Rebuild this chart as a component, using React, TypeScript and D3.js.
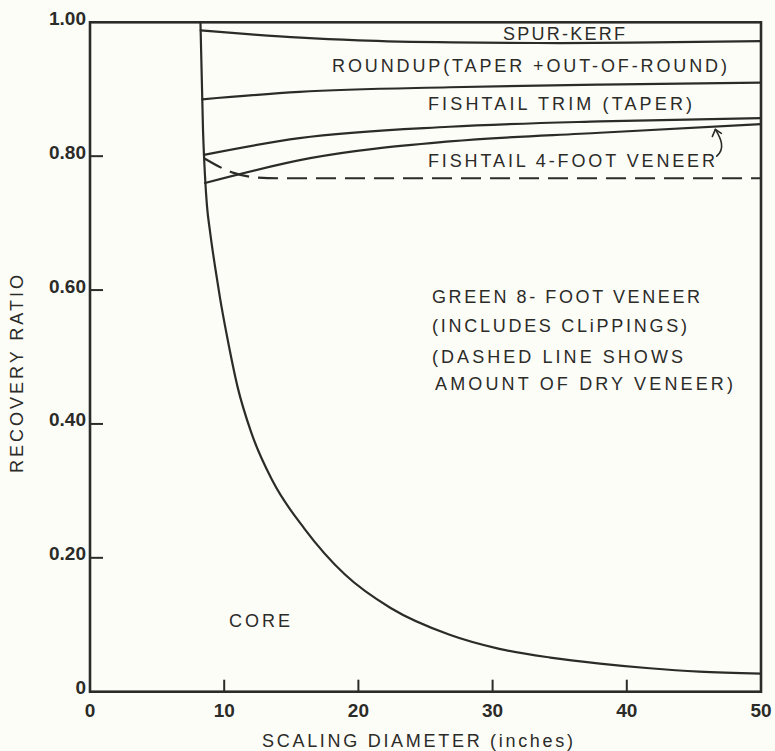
import React from "react";
import * as d3 from "d3";

// ---- data ----
const xTicks = [0, 10, 20, 30, 40, 50];
const yTicks = [0, 0.2, 0.4, 0.6, 0.8, 1.0];
const yTickLabels = ["0", "0.20", "0.40", "0.60", "0.80", "1.00"];

// core boundary (bottom of green veneer region)
const coreD = [8.23, 8.42, 8.57, 8.72, 8.94, 9.31, 9.69, 10.2, 11.0, 12.0, 13.6, 16.0, 19.0, 22.4, 26.8, 30.5, 34.3, 38.0, 41.7, 45.4, 50];
const coreR = [1.0, 0.84, 0.77, 0.725, 0.688, 0.636, 0.588, 0.532, 0.455, 0.388, 0.315, 0.243, 0.175, 0.125, 0.085, 0.064, 0.051, 0.042, 0.035, 0.03, 0.027];

// spur-kerf boundary
const spurD = [8.25, 12, 15.7, 20, 27, 35, 42, 50];
const spurR = [0.988, 0.982, 0.977, 0.973, 0.97, 0.969, 0.97, 0.972];

// roundup boundary
const roundD = [8.36, 15.6, 26.8, 38, 50];
const roundR = [0.885, 0.896, 0.903, 0.907, 0.91];

// fishtail trim boundary
const trimD = [8.49, 15.6, 26.8, 38, 50];
const trimR = [0.802, 0.827, 0.844, 0.852, 0.857];

// fishtail 4-foot veneer boundary
const fourD = [8.57, 16.4, 26.8, 38, 50];
const fourR = [0.76, 0.797, 0.822, 0.835, 0.848];

// dry veneer (dashed)
const dryD = [8.5, 10.7, 12.0, 14.0, 20, 30, 40, 50];
const dryR = [0.797, 0.775, 0.769, 0.767, 0.767, 0.767, 0.767, 0.767];

const W = 775;
const H = 751;
const INK = "#2b2b28";
const FONT = "'Liberation Sans', Arial, Helvetica, sans-serif";

export default function App() {
  const x = d3.scaleLinear().domain([0, 50]).range([90, 761]);
  const y = d3.scaleLinear().domain([0, 1]).range([691.7, 22.3]);

  const mk = (ds: number[], rs: number[], curve: d3.CurveFactory) =>
    d3
      .line<number>()
      .x((_, i) => x(ds[i]))
      .y((_, i) => y(rs[i]))
      .curve(curve)(ds) as string;

  const corePath = mk(coreD, coreR, d3.curveMonotoneX);
  const spurPath = mk(spurD, spurR, d3.curveMonotoneX);
  const roundPath = mk(roundD, roundR, d3.curveMonotoneX);
  const trimPath = mk(trimD, trimR, d3.curveMonotoneX);
  const fourPath = mk(fourD, fourR, d3.curveMonotoneX);
  const dryPath = mk(dryD, dryR, d3.curveMonotoneX);

  // arrow from label to the 4-foot veneer boundary
  const ax0 = x(46.7), ay0 = y(0.8);
  const ax1 = x(46.6), ay1 = y(0.84);
  const arrowPath = `M${ax0},${ay0} C${ax0 + 9},${ay0 - 8} ${ax0 + 4},${ay0 - 18} ${ax1},${ay1}`;
  const headPath = `M${ax1 - 3},${ay1 + 7} L${ax1},${ay1} L${ax1 + 6},${ay1 + 4}`;

  const lbl = (t: string, px: number, py: number, len: number, key: string) => (
    <text key={key} x={px} y={py} textLength={len} lengthAdjust="spacing" fontSize={18} fill={INK} fontFamily={FONT}>
      {t}
    </text>
  );

  return (
    <svg width={W} height={H} style={{ position: "absolute", left: 0, top: 0, display: "block" }}>
      <rect x={0} y={0} width={W} height={H} fill="#fdfdf8" />
      {/* frame */}
      <rect x={x(0)} y={y(1)} width={x(50) - x(0)} height={y(0) - y(1)} fill="none" stroke={INK} strokeWidth={2.6} />
      {/* y ticks */}
      {yTicks.filter((v) => v > 0 && v < 1).map((v) => (
        <line key={"yt" + v} x1={x(0)} x2={x(0) + 13} y1={y(v)} y2={y(v)} stroke={INK} strokeWidth={2} />
      ))}
      {/* x ticks */}
      {xTicks.filter((v) => v > 0 && v < 50).map((v) => (
        <line key={"xt" + v} x1={x(v)} x2={x(v)} y1={y(0)} y2={y(0) - 12} stroke={INK} strokeWidth={2} />
      ))}
      {/* y tick labels */}
      {yTicks.map((v, i) => (
        <text key={"yl" + v} x={86} y={y(v) + 2.5} textAnchor="end" fontSize={19} fontWeight="bold" fill={INK} fontFamily={FONT}>
          {yTickLabels[i]}
        </text>
      ))}
      {/* x tick labels */}
      {xTicks.map((v) => (
        <text key={"xl" + v} x={x(v)} y={717} textAnchor="middle" fontSize={19} fontWeight="bold" fill={INK} fontFamily={FONT}>
          {String(v)}
        </text>
      ))}
      {/* axis titles */}
      <text x={262} y={747} textLength={311} lengthAdjust="spacing" fontSize={18} fill={INK} fontFamily={FONT}>
        SCALING DIAMETER (inches)
      </text>
      <text
        transform={`translate(23,473) rotate(-90)`}
        x={0}
        y={0}
        textLength={198}
        lengthAdjust="spacing"
        fontSize={18}
        fill={INK}
        fontFamily={FONT}
      >
        RECOVERY RATIO
      </text>
      {/* curves */}
      <g fill="none" stroke={INK} strokeWidth={2.2} strokeLinejoin="round" strokeLinecap="round">
        <path d={corePath} />
        <path d={spurPath} />
        <path d={roundPath} />
        <path d={trimPath} />
        <path d={fourPath} />
        <path d={dryPath} strokeDasharray="20 9" strokeLinecap="butt" />
        <path d={arrowPath} strokeWidth={1.6} />
        <path d={headPath} strokeWidth={1.6} />
      </g>
      {/* region labels */}
      {lbl("SPUR-KERF", 503, 40, 122, "a")}
      {lbl("ROUNDUP(TAPER +OUT-OF-ROUND)", 332, 72, 395, "b")}
      {lbl("FISHTAIL TRIM (TAPER)", 428, 110, 264, "c")}
      {lbl("FISHTAIL 4-FOOT VENEER", 428, 167, 287, "d")}
      {lbl("GREEN 8- FOOT VENEER", 432, 303, 268, "e")}
      {lbl("(INCLUDES CLiPPINGS)", 432, 332, 255, "f")}
      {lbl("(DASHED LINE SHOWS", 432, 363, 251, "g")}
      {lbl("AMOUNT OF DRY VENEER)", 435, 390, 298, "h")}
      {lbl("CORE", 229, 627, 61, "i")}
    </svg>
  );
}
